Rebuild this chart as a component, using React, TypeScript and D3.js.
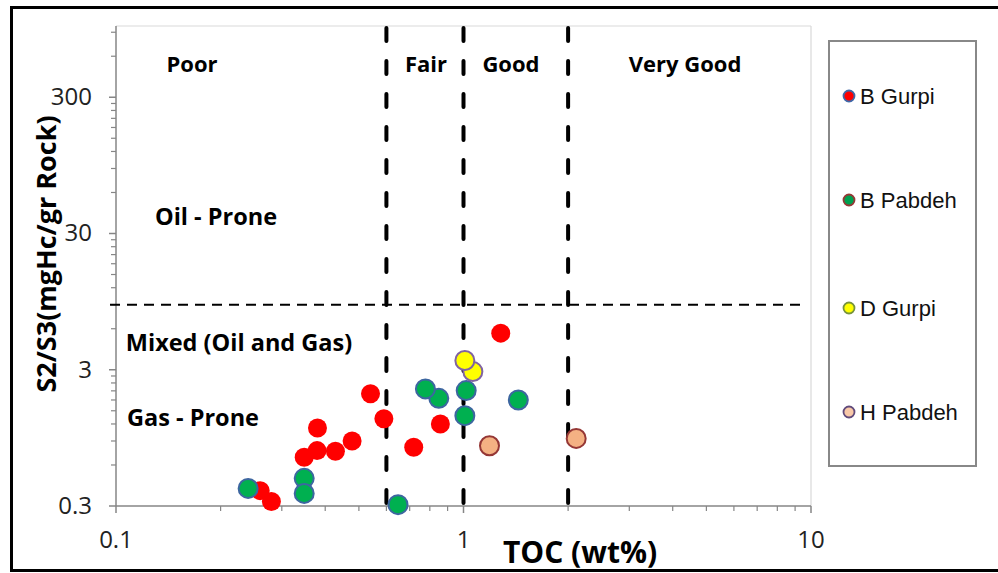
import * as d3 from 'd3'

const W = 998, H = 573
const M = { left: 116, right: 811, top: 26, bottom: 506 }

// TOC (wt%) and S2/S3 values
const gurpiB = [
  { toc: 1.28, s: 5.57 }, { toc: 0.54, s: 2.0 }, { toc: 0.59, s: 1.31 }, { toc: 0.38, s: 1.12 },
  { toc: 0.478, s: 0.9 }, { toc: 0.428, s: 0.756 }, { toc: 0.379, s: 0.765 }, { toc: 0.348, s: 0.683 },
  { toc: 0.858, s: 1.2 }, { toc: 0.719, s: 0.81 }, { toc: 0.26, s: 0.389 }, { toc: 0.28, s: 0.324 },
]
const pabdehB = [
  { toc: 0.24, s: 0.404 }, { toc: 0.348, s: 0.479 }, { toc: 0.348, s: 0.371 }, { toc: 0.648, s: 0.307 },
  { toc: 0.849, s: 1.85 }, { toc: 0.777, s: 2.17 }, { toc: 1.018, s: 2.11 }, { toc: 1.009, s: 1.38 },
  { toc: 1.438, s: 1.8 },
]
const gurpiD = [{ toc: 1.064, s: 2.91 }, { toc: 1.009, s: 3.51 }]
const pabdehH = [{ toc: 1.188, s: 0.83 }, { toc: 2.11, s: 0.94 }]

const seriesNames = ['B Gurpi', 'B Pabdeh', 'D Gurpi', 'H Pabdeh']
const xTicks = [0.1, 1, 10]
const yTicks = [0.3, 3, 30, 300]
const tocLimits = [0.6, 1, 2]
const ratioLimit = 9

const richness = [
  { name: 'Poor', x: 192 },
  { name: 'Fair', x: 426 },
  { name: 'Good', x: 511 },
  { name: 'Very Good', x: 685 },
]

const series = [
  { data: gurpiB, fill: '#ff0000', stroke: 'none', lfill: '#ff0000', lstroke: '#3f68a8' },
  { data: pabdehB, fill: '#00b050', stroke: '#3d66a0', lfill: '#00a050', lstroke: '#953735' },
  { data: gurpiD, fill: '#ffff00', stroke: '#8064a2', lfill: '#ffff00', lstroke: '#77933c' },
  { data: pabdehH, fill: '#f4b183', stroke: '#953735', lfill: '#f8c8a8', lstroke: '#604a7b' },
]

const FONT = '"Open Sans", Lato, sans-serif'

export default function App() {
  const x = d3.scaleLog().domain([0.1, 10]).range([M.left, M.right])
  const y = d3.scaleLog().domain([0.3, 1000]).range([M.bottom, M.top])

  const xMinor: number[] = []
  for (const b of [0.1, 1]) for (let k = 2; k <= 9; k++) xMinor.push(b * k)
  const yMinor: number[] = []
  for (const b of [0.3, 3, 30, 300]) for (let k = 2; k <= 9; k++) if (b * k <= 1000) yMinor.push(b * k)

  const axisCol = '#868686'

  return (
    <svg width={W} height={H} style={{ position: 'absolute', left: 0, top: 0, background: '#fff' }} fontFamily={FONT}>
      {/* outer frame */}
      <path d={`M${W + 5},7.5 H11.5 V570.5 H${W + 5}`} fill="none" stroke="#000" strokeWidth={3} />

      {/* plot area border */}
      <line x1={M.left} x2={M.right} y1={M.top} y2={M.top} stroke="#d9d9d9" strokeWidth={1.2} />
      <line x1={M.right} x2={M.right} y1={M.top} y2={M.bottom} stroke="#d9d9d9" strokeWidth={1.2} />

      {/* axes */}
      <line x1={M.left} x2={M.right} y1={M.bottom} y2={M.bottom} stroke={axisCol} strokeWidth={1.5} />
      <line x1={M.left} x2={M.left} y1={M.top} y2={M.bottom} stroke={axisCol} strokeWidth={1.5} />
      {xTicks.map((t) => (
        <g key={'xt' + t}>
          <line x1={x(t)} x2={x(t)} y1={M.bottom} y2={M.bottom + 7} stroke={axisCol} strokeWidth={1.5} />
          <text x={x(t)} y={548} textAnchor="middle" fontSize={24} fill="#222">{t}</text>
        </g>
      ))}
      {xMinor.map((t) => (
        <line key={'xm' + t} x1={x(t)} x2={x(t)} y1={M.bottom} y2={M.bottom + 5} stroke={axisCol} strokeWidth={1.2} />
      ))}
      {yTicks.map((t) => (
        <g key={'yt' + t}>
          <line x1={M.left - 7} x2={M.left} y1={y(t)} y2={y(t)} stroke={axisCol} strokeWidth={1.5} />
          <text x={92} y={y(t) + 8} textAnchor="end" fontSize={24} fill="#222">{t}</text>
        </g>
      ))}
      {yMinor.map((t) => (
        <line key={'ym' + t} x1={M.left - 5} x2={M.left} y1={y(t)} y2={y(t)} stroke={axisCol} strokeWidth={1.2} />
      ))}

      {/* classification lines */}
      <line x1={M.left - 6} x2={805} y1={y(ratioLimit)} y2={y(ratioLimit)} stroke="#000" strokeWidth={2.2} strokeDasharray="10,7" />
      {tocLimits.map((t) => (
        <line key={'v' + t} x1={x(t)} x2={x(t)} y1={M.top + 2} y2={M.bottom} stroke="#000" strokeWidth={4}
          strokeDasharray="13,20" strokeLinecap="round" />
      ))}

      {/* region labels */}
      {richness.map((r) => (
        <text key={r.name} x={r.x} y={72} textAnchor="middle" fontSize={22} fontWeight="bold">{r.name}</text>
      ))}
      <text x={216} y={225} textAnchor="middle" fontSize={23.5} fontWeight="bold">Oil - Prone</text>
      <text x={239} y={351} textAnchor="middle" fontSize={23.5} fontWeight="bold">Mixed (Oil and Gas)</text>
      <text x={193} y={426} textAnchor="middle" fontSize={23.5} fontWeight="bold">Gas - Prone</text>

      {/* points */}
      {series.map((s, i) => (
        <g key={'s' + i}>
          {s.data.map((d, j) => (
            <circle key={j} cx={x(d.toc)} cy={y(d.s)} r={9.5} fill={s.fill}
              stroke={s.stroke} strokeWidth={s.stroke === 'none' ? 0 : 2} />
          ))}
        </g>
      ))}

      {/* axis titles */}
      <text x={580} y={563} textAnchor="middle" fontSize={30} fontWeight="bold">TOC (wt%)</text>
      <text transform={`translate(56,254) rotate(-90)`} textAnchor="middle" fontSize={27} fontWeight="bold">S2/S3(mgHc/gr Rock)</text>

      {/* legend */}
      <rect x={829} y={41} width={147} height={425} fill="#fff" stroke="#888" strokeWidth={2} />
      {seriesNames.map((n, i) => {
        const ly = [96, 200, 308, 412][i]
        const s = series[i]
        return (
          <g key={n}>
            <circle cx={849} cy={ly} r={5.5} fill={s.lfill} stroke={s.lstroke} strokeWidth={1.8} />
            <text x={860} y={ly + 8} fontSize={22} fontFamily='"Liberation Sans", Arial, sans-serif' fill="#111">{n}</text>
          </g>
        )
      })}
    </svg>
  )
}
